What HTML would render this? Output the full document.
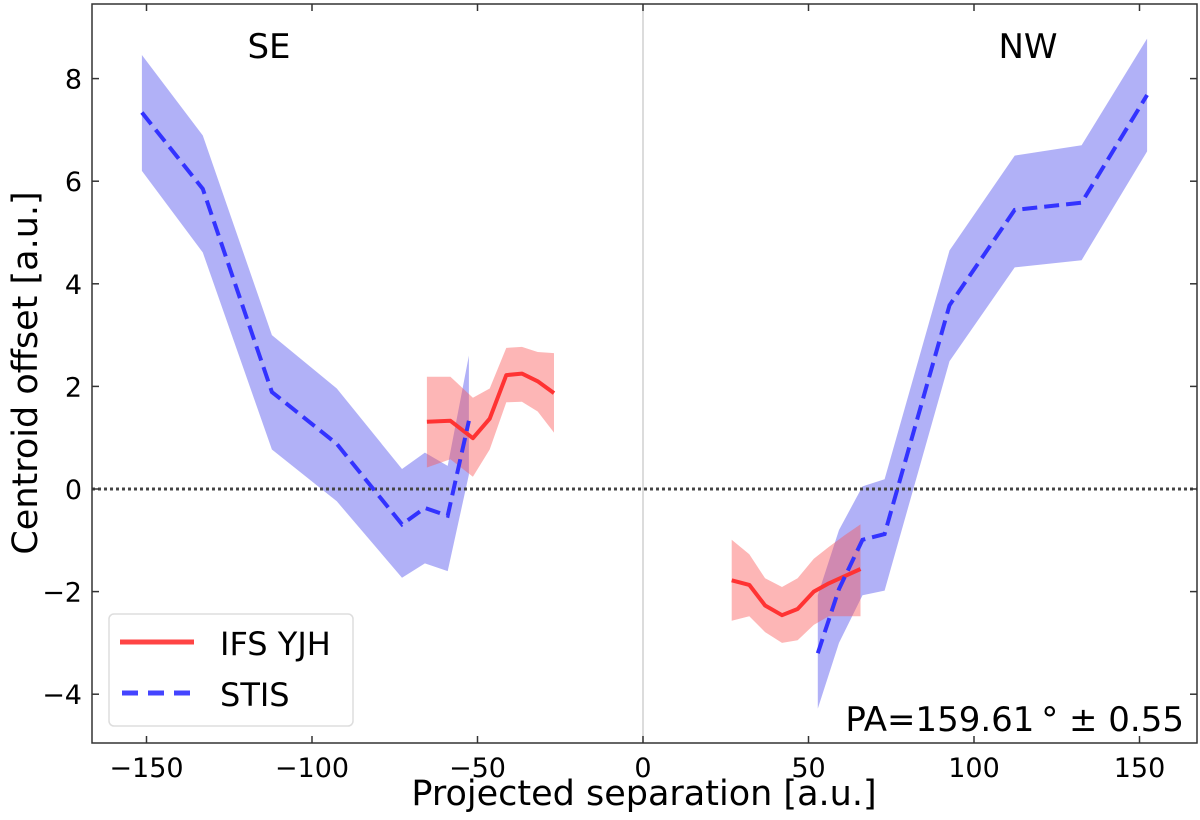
<!DOCTYPE html>
<html><head><meta charset="utf-8">
<style>
html,body{margin:0;padding:0;background:#fff;}
svg{display:block;font-family:"DejaVu Sans","Liberation Sans",sans-serif;}
</style></head>
<body>
<svg id="chart" width="1200" height="820" viewBox="0 0 1200 820" xmlns="http://www.w3.org/2000/svg"></svg>
<script>
// ---- data ----
const stisSeX = [-151.4, -133.0, -112.1, -92.5, -72.8, -65.9, -59.0, -52.6];
const stisSeY = [7.34, 5.85, 1.89, 0.88, -0.69, -0.37, -0.52, 1.33];
const stisSeHi = [8.46, 6.89, 3.0, 1.96, 0.39, 0.71, 0.45, 2.6];
const stisSeLo = [6.2, 4.61, 0.77, -0.24, -1.73, -1.45, -1.6, 0.28];

const stisNwX = [52.8, 59.2, 66.3, 73.0, 92.6, 112.3, 132.5, 152.3];
const stisNwY = [-3.2, -1.95, -0.99, -0.88, 3.58, 5.44, 5.58, 7.68];
const stisNwHi = [-2.07, -0.8, 0.05, 0.19, 4.65, 6.5, 6.7, 8.78];
const stisNwLo = [-4.28, -3.0, -2.07, -1.98, 2.49, 4.32, 4.46, 6.58];

const ifsSeX = [-65.3, -58.2, -51.4, -46.3, -41.3, -36.6, -31.8, -26.9];
const ifsSeY = [1.31, 1.33, 0.99, 1.37, 2.22, 2.25, 2.1, 1.87];
const ifsSeHi = [2.19, 2.19, 1.78, 1.96, 2.75, 2.77, 2.67, 2.65];
const ifsSeLo = [0.42, 0.58, 0.24, 0.77, 1.69, 1.70, 1.51, 1.1];

const ifsNwX = [26.8, 32.1, 36.9, 42.0, 46.7, 51.6, 56.1, 60.9, 65.7];
const ifsNwY = [-1.78, -1.87, -2.27, -2.46, -2.34, -2.0, -1.84, -1.70, -1.56];
const ifsNwHi = [-0.99, -1.27, -1.74, -1.91, -1.74, -1.36, -1.13, -0.9, -0.69];
const ifsNwLo = [-2.57, -2.48, -2.79, -3.0, -2.95, -2.65, -2.48, -2.48, -2.48];

const xTicks = [-150, -100, -50, 0, 50, 100, 150];
const xTickLabels = ["\u2212150", "\u2212100", "\u221250", "0", "50", "100", "150"];
const yTicks = [-4, -2, 0, 2, 4, 6, 8];
const yTickLabels = ["\u22124", "\u22122", "0", "2", "4", "6", "8"];

// ---- axes ----
const L = 92, R = 1197, T = 4, B = 743;
function sx(v){ return 643 + v * 3.31; }
function sy(v){ return 489 - v * 51.3; }

const NS = "http://www.w3.org/2000/svg";
const svg = document.getElementById("chart");
function mk(tag, attrs, parent){
  const e = document.createElementNS(NS, tag);
  for (const k in attrs) e.setAttribute(k, attrs[k]);
  (parent || svg).appendChild(e);
  return e;
}
function pts(xs, ys){ return xs.map((x,i)=>sx(x).toFixed(1)+","+sy(ys[i]).toFixed(1)).join(" "); }
function bandPts(xs, hi, lo){
  const a = xs.map((x,i)=>sx(x).toFixed(1)+","+sy(hi[i]).toFixed(1));
  const b = xs.map((x,i)=>sx(x).toFixed(1)+","+sy(lo[i]).toFixed(1)).reverse();
  return a.concat(b).join(" ");
}

let e = mk("line", {x1:sx(0), x2:sx(0), y1:T, y2:B, stroke:"#d0d0d0", "stroke-width":1.5});



e = mk("polygon", {points:bandPts(stisSeX, stisSeHi, stisSeLo), fill:"rgba(100,100,240,0.5)"});


e = mk("polygon", {points:bandPts(stisNwX, stisNwHi, stisNwLo), fill:"rgba(100,100,240,0.5)"});


e = mk("polygon", {points:bandPts(ifsSeX, ifsSeHi, ifsSeLo), fill:"rgba(250,80,80,0.42)"});


e = mk("polygon", {points:bandPts(ifsNwX, ifsNwHi, ifsNwLo), fill:"rgba(250,80,80,0.42)"});



e = mk("line", {x1:L, x2:R, y1:sy(0), y2:sy(0), stroke:"#444", "stroke-width":3, "stroke-dasharray":"3,3"});



e = mk("polyline", {points:pts(ifsSeX, ifsSeY), fill:"none", stroke:"#ff3333", "stroke-width":4, "stroke-linejoin":"round"});


e = mk("polyline", {points:pts(ifsNwX, ifsNwY), fill:"none", stroke:"#ff3333", "stroke-width":4, "stroke-linejoin":"round"});


e = mk("polyline", {points:pts(stisSeX, stisSeY), fill:"none", stroke:"#3333ff", "stroke-width":4, "stroke-dasharray":"15,7"});


e = mk("polyline", {points:pts(stisNwX, stisNwY), fill:"none", stroke:"#3333ff", "stroke-width":4, "stroke-dasharray":"15,7"});



e = mk("rect", {x:L, y:T, width:R-L, height:B-T, fill:"none", stroke:"#333", "stroke-width":1.5});



xTicks.forEach((v,i)=>{
  const x = sx(v);
  mk("line", {x1:x, x2:x, y1:B, y2:B-7, stroke:"#333", "stroke-width":1.5});
  mk("line", {x1:x, x2:x, y1:T, y2:T+7, stroke:"#333", "stroke-width":1.5});
  const t = mk("text", {x:x, y:B+34, "font-size":27, "text-anchor":"middle", fill:"#000"});
  t.textContent = xTickLabels[i];
  
  
});
yTicks.forEach((v,i)=>{
  const y = sy(v);
  mk("line", {x1:L, x2:L+7, y1:y, y2:y, stroke:"#333", "stroke-width":1.5});
  mk("line", {x1:R, x2:R-7, y1:y, y2:y, stroke:"#333", "stroke-width":1.5});
  const t = mk("text", {x:L-10, y:y+10, "font-size":27, "text-anchor":"end", fill:"#000"});
  t.textContent = yTickLabels[i];
  
  
});

e = mk("text", {x:644, y:805, "font-size":35, "text-anchor":"middle", fill:"#000"});
e.textContent = "Projected separation [a.u.]";


e = mk("text", {x:0, y:0, "font-size":35, "text-anchor":"middle", fill:"#000", transform:"translate(37,373) rotate(-90)"});
e.textContent = "Centroid offset [a.u.]";



e = mk("text", {x:269, y:58, "font-size":34, "text-anchor":"middle", fill:"#000"});
e.textContent = "SE";


e = mk("text", {x:1028, y:58, "font-size":34, "text-anchor":"middle", fill:"#000"});
e.textContent = "NW";


e = mk("text", {x:1184, y:731, "font-size":34, "text-anchor":"end", fill:"#000"});
e.textContent = "PA=159.61\u2009\u00b0 \u00b1 0.55";



const lg = mk("g", {});


mk("rect", {x:109, y:614, width:244, height:112, rx:5, fill:"rgba(255,255,255,0.85)", stroke:"#ddd", "stroke-width":1.5}, lg);
mk("line", {x1:120, x2:194, y1:642, y2:642, stroke:"#ff4444", "stroke-width":5}, lg);
mk("line", {x1:122, x2:194, y1:693, y2:693, stroke:"#4444ff", "stroke-width":5, "stroke-dasharray":"16,10"}, lg);
e = mk("text", {x:220, y:655, "font-size":32, fill:"#000"}, lg);
e.textContent = "IFS YJH";


e = mk("text", {x:220, y:706, "font-size":32, fill:"#000"}, lg);
e.textContent = "STIS";


</script>
</body></html>
